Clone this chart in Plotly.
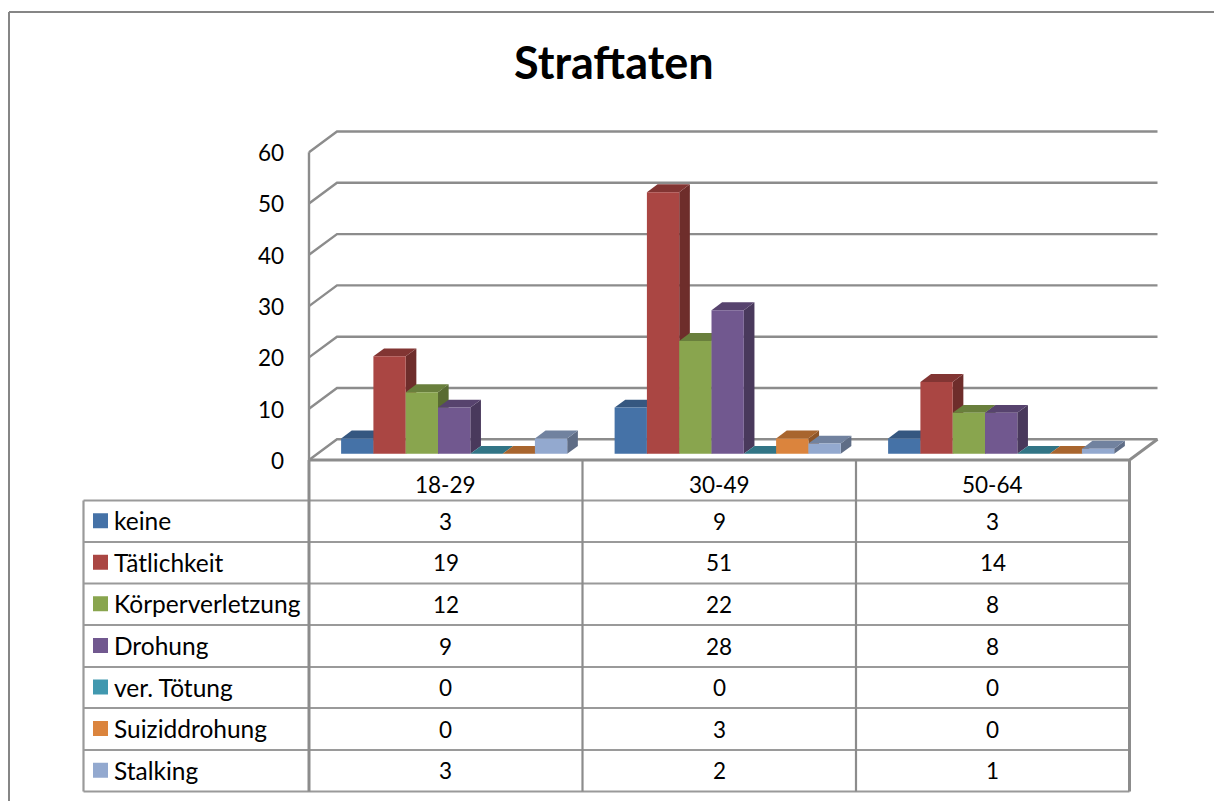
import plotly.graph_objects as go

TITLE = "Straftaten"
categories = ["18-29", "30-49", "50-64"]
keine = [3, 9, 3]
taetlichkeit = [19, 51, 14]
koerperverletzung = [12, 22, 8]
drohung = [9, 28, 8]
ver_toetung = [0, 0, 0]
suiziddrohung = [0, 3, 0]
stalking = [3, 2, 1]
series_names = ["keine", "Tätlichkeit", "Körperverletzung", "Drohung",
                "ver. Tötung", "Suiziddrohung", "Stalking"]
series_values = [keine, taetlichkeit, koerperverletzung, drohung,
                 ver_toetung, suiziddrohung, stalking]
front_colors = ["#4572A7", "#AA4643", "#89A54E", "#71588F", "#4198AF", "#DB843D", "#93A9CF"]
y_ticks = [0, 10, 20, 30, 40, 50, 60]

W, H = 1214, 801
FONT = "Lato"
FS = 22.5
FS_LEGEND = 24.5
LINE = "#8C8C8C"
# pixel scale of the chart's axes
X0, PX_CAT = 309.0, 273.5
Y0, PX_VAL = 460.0, 5.13
# depth of the 3D box and of the bars, in axis units
DX, DY = 28.0 / PX_CAT, 20.7 / PX_VAL
Z_FRONT, Z_BACK = 0.30, 0.68
GAP, BAR_W = 0.0867, 0.1181


def xd(px):
    return (px - X0) / PX_CAT


def yd(px):
    return (Y0 - px) / PX_VAL


def shade(hex_color, f):
    r, g, b = (int(hex_color[i:i + 2], 16) for i in (1, 3, 5))
    return f"rgb({int(r * f)},{int(g * f)},{int(b * f)})"


fig = go.Figure()


def polyline(xs, ys, width=2.4, color=LINE):
    fig.add_trace(go.Scatter(x=xs, y=ys, mode="lines", hoverinfo="skip", showlegend=False,
                             line=dict(color=color, width=width, simplify=False)))


# box: gridlines on back wall and their diagonals on the left wall
for v in y_ticks:
    polyline([0, DX, 3 + DX], [v, v + DY, v + DY])
polyline([0, 0], [y_ticks[0], y_ticks[-1]])
polyline([0, 3, 3 + DX], [0, 0, DY], width=3)

# side and top faces, series by series
for s, (name, vals, col) in enumerate(zip(series_names, series_values, front_colors)):
    for c, v in enumerate(vals):
        x1 = c + GAP + s * BAR_W + Z_FRONT * DX
        x2 = x1 + BAR_W
        b = Z_FRONT * DY
        t = b + v
        ddx = (Z_BACK - Z_FRONT) * DX
        ddy = (Z_BACK - Z_FRONT) * DY
        fig.add_trace(go.Scatter(x=[x2, x2 + ddx, x2 + ddx, x2, x2], y=[b, b + ddy, t + ddy, t, b],
                                 mode="lines", fill="toself", fillcolor=shade(col, 0.65),
                                 line=dict(width=0), hoverinfo="skip", showlegend=False))
        fig.add_trace(go.Scatter(x=[x1, x2, x2 + ddx, x1 + ddx, x1], y=[t, t, t + ddy, t + ddy, t],
                                 mode="lines", fill="toself", fillcolor=shade(col, 0.77),
                                 line=dict(width=0), hoverinfo="skip", showlegend=False))

# front faces as real bars on an overlaid axis pair
for s, (name, vals, col) in enumerate(zip(series_names, series_values, front_colors)):
    fig.add_trace(go.Bar(
        x=[c + GAP + (s + 0.5) * BAR_W + Z_FRONT * DX for c in range(len(categories))],
        y=vals, base=Z_FRONT * DY, width=BAR_W, name=name, showlegend=False,
        marker=dict(color=col, line=dict(width=0)), xaxis="x2", yaxis="y2"))

# data table
shapes = []
annotations = []
row_lines = [500.5, 542, 583.5, 625, 667, 708, 750, 791.5]


def seg(x0, y0, x1, y1, w=2.0, color=LINE):
    shapes.append(dict(type="line", xref="paper", yref="paper", x0=x0 / W, x1=x1 / W,
                       y0=1 - y0 / H, y1=1 - y1 / H, line=dict(color=color, width=w)))


for i, y in enumerate(row_lines):
    seg(83.5, y, 1129.5, y, w=2.2, color="#9A9A9A")
for c in range(4):
    seg(X0 + c * PX_CAT, 460, X0 + c * PX_CAT, 791.5, w=3 if c in (0, 3) else 2.2)
seg(83.5, 500.5, 83.5, 791.5, w=2.2, color="#9A9A9A")
# outer frame
seg(9, 12, W, 12, w=2, color="#868686")
seg(9, 12, 9, H, w=2, color="#868686")

text_style = dict(family=FONT, size=FS, color="#000000")
legend_style = dict(family=FONT, size=FS_LEGEND, color="#000000")
for c, cat in enumerate(categories):
    annotations.append(dict(x=c + 0.5, y=yd(484.5), xref="x", yref="y", text=cat, showarrow=False,
                            font=text_style))
for s, (name, vals, col) in enumerate(zip(series_names, series_values, front_colors)):
    yc = (row_lines[s] + row_lines[s + 1]) / 2
    annotations.append(dict(x=xd(112), y=yd(yc - 0.5), xref="x", yref="y", text=name, showarrow=False,
                            xanchor="left", font=legend_style))
    shapes.append(dict(type="rect", xref="x", yref="y", x0=xd(93), x1=xd(108),
                       y0=yd(yc - 8), y1=yd(yc + 7), fillcolor=col, line=dict(width=0)))
    for c, v in enumerate(vals):
        annotations.append(dict(x=c + 0.5, y=yd(yc), xref="x", yref="y", text=str(v),
                                showarrow=False, font=text_style))
annotations.append(dict(x=xd(613.5), y=yd(62), xref="x", yref="y", text=f"<b>{TITLE}</b>",
                        showarrow=False, font=dict(family=FONT, size=45, color="#000000")))

xr = [xd(0), xd(W)]
yr = [yd(H), yd(0)]
fig.update_layout(
    width=W, height=H, margin=dict(l=0, r=0, t=0, b=0, pad=0),
    paper_bgcolor="#FFFFFF", plot_bgcolor="#FFFFFF", barmode="overlay", showlegend=False,
    hovermode=False, shapes=shapes, annotations=annotations,
    xaxis=dict(range=xr, visible=False, fixedrange=True, domain=[0, 1]),
    yaxis=dict(range=yr, fixedrange=True, domain=[0, 1], anchor="free", position=284 / W,
               tickmode="array", tickvals=y_ticks, ticktext=[str(v) for v in y_ticks],
               showgrid=False, zeroline=False, showline=False, ticks="",
               ticklabelshift=1, tickfont=text_style),
    xaxis2=dict(range=xr, visible=False, fixedrange=True, overlaying="x", domain=[0, 1]),
    yaxis2=dict(range=yr, visible=False, fixedrange=True, overlaying="y", domain=[0, 1]),
)

fig.write_html("out.html", config=dict(displayModeBar=False, staticPlot=True),
               post_script="document.body.style.margin='0';document.body.style.overflow='hidden';")
